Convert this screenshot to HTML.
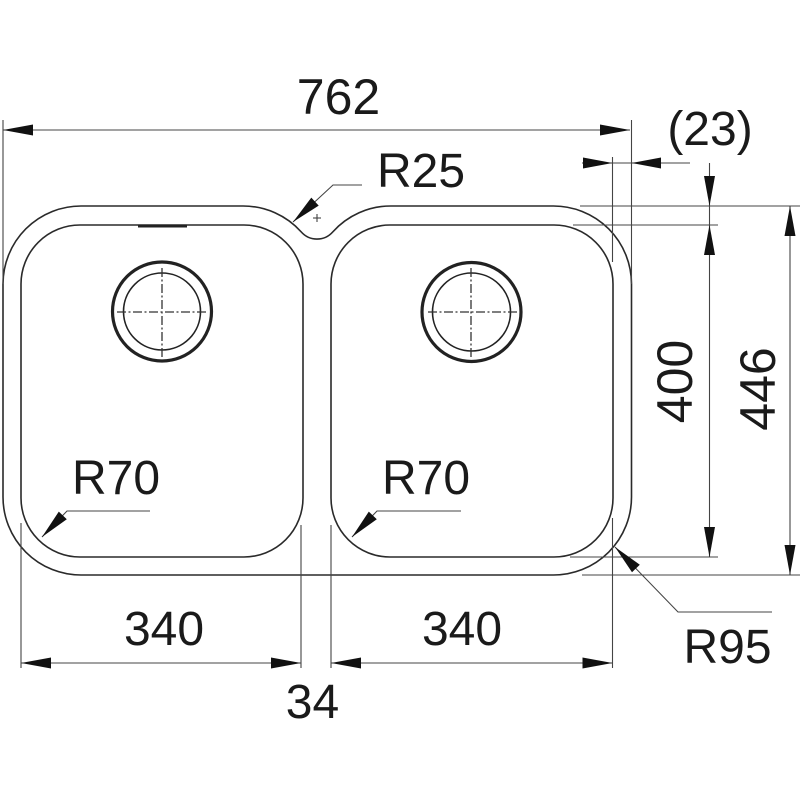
<!DOCTYPE html>
<html><head><meta charset="utf-8"><style>
html,body{margin:0;padding:0;background:#fff;}
svg{display:block;}
text{font-family:"Liberation Sans",Arial,sans-serif;fill:#1a1a1a;}
</style></head><body>
<svg width="800" height="800" viewBox="0 0 800 800" xmlns="http://www.w3.org/2000/svg">
<rect width="800" height="800" fill="#fff"/>
<!-- outline -->
<g fill="none" stroke="#2a2a2a" stroke-width="1.6">
<path d="M81 206 L243 206 A78 78 0 0 1 301.3 232 A21 21 0 0 0 332.7 232 A78 78 0 0 1 391 206 L553.5 206 A78 78 0 0 1 631.5 284 L631.5 497 A78 78 0 0 1 553.5 575 L81 575 A78 78 0 0 1 3 497 L3 284 A78 78 0 0 1 81 206 Z"/>
<rect x="21" y="225" width="282" height="332" rx="59" ry="59"/>
<rect x="331" y="225" width="282" height="332" rx="59" ry="59"/>
</g>
<line x1="138" y1="226" x2="187" y2="226" stroke="#222" stroke-width="3"/>
<!-- drains -->
<g fill="none" stroke="#222">
<circle cx="162" cy="311.5" r="49.5" stroke-width="3.2"/>
<circle cx="162" cy="311.5" r="38.5" stroke-width="1.6"/>
<circle cx="471.5" cy="312" r="49.5" stroke-width="3.2"/>
<circle cx="471.5" cy="312" r="39" stroke-width="1.6"/>
</g>
<g stroke="#333" stroke-width="1.3" stroke-dasharray="9 2.5 2 2.5">
<line x1="117" y1="312" x2="207" y2="312"/>
<line x1="162" y1="268" x2="162" y2="357"/>
<line x1="428" y1="312" x2="517" y2="312"/>
<line x1="471" y1="268" x2="471" y2="357"/>
</g>
<!-- dimension lines -->
<g stroke="#444" stroke-width="1.1" fill="none">
<line x1="3" y1="130" x2="630" y2="130"/>
<line x1="3" y1="120" x2="3" y2="284"/>
<line x1="631.5" y1="120" x2="631.5" y2="284"/>
<line x1="612.5" y1="157" x2="612.5" y2="262"/>
<line x1="582" y1="163" x2="690" y2="163"/>
<line x1="709.5" y1="163" x2="709.5" y2="557"/>
<line x1="790" y1="206" x2="790" y2="575"/>
<line x1="580" y1="206" x2="800" y2="206"/>
<line x1="573" y1="225" x2="718" y2="225"/>
<line x1="570" y1="557" x2="718" y2="557"/>
<line x1="582" y1="575" x2="800" y2="575"/>
<line x1="21" y1="663" x2="301" y2="663"/>
<line x1="331" y1="663" x2="612.5" y2="663"/>
<line x1="21" y1="523" x2="21" y2="668"/>
<line x1="301" y1="525" x2="301" y2="668"/>
<line x1="331" y1="525" x2="331" y2="668"/>
<line x1="612.5" y1="518" x2="612.5" y2="668"/>
<polyline points="362,185 333,185 293,222"/>
<polyline points="150,511 67,511 42,537"/>
<polyline points="461,511 377,511 352,537"/>
<polyline points="772,612 678,612 615,547"/>
<line x1="313" y1="218" x2="321" y2="218"/>
<line x1="317" y1="214" x2="317" y2="222"/>
</g>
<!-- arrowheads -->
<g fill="#111">
<polygon points="3,130 33,124.5 33,135.5"/>
<polygon points="630,130 600,124.5 600,135.5"/>
<polygon points="612.5,163 583,157.5 583,168.5"/>
<polygon points="631.5,163 661,157.5 661,168.5"/>
<polygon points="709.5,206 704,176 715,176"/>
<polygon points="709.5,225 704,255 715,255"/>
<polygon points="709.5,557 704,527 715,527"/>
<polygon points="790,206 784.5,236 795.5,236"/>
<polygon points="790,575 784.5,545 795.5,545"/>
<polygon points="21,663 51,657.5 51,668.5"/>
<polygon points="301,663 271,657.5 271,668.5"/>
<polygon points="331,663 361,657.5 361,668.5"/>
<polygon points="612.5,663 582.5,657.5 582.5,668.5"/>
<polygon points="293,222 318.7,205.6 311.3,197.6"/>
<polygon points="42,537 66.8,519.2 58.8,511.6"/>
<polygon points="352,537 376.8,519.2 368.8,511.6"/>
<polygon points="615,547 639.8,564.7 632,572.3"/>
</g>
<!-- labels -->
<g font-size="48">
<text x="338.5" y="114" text-anchor="middle" font-size="50">762</text>
<text x="710" y="145" text-anchor="middle">(23)</text>
<text x="421" y="187" text-anchor="middle">R25</text>
<text x="116" y="494" text-anchor="middle">R70</text>
<text x="426" y="494" text-anchor="middle">R70</text>
<text x="164" y="645" text-anchor="middle">340</text>
<text x="462" y="645" text-anchor="middle">340</text>
<text x="312.5" y="718" text-anchor="middle">34</text>
<text x="727.5" y="663" text-anchor="middle">R95</text>
<text transform="translate(692,381.5) rotate(-90)" text-anchor="middle" font-size="50">400</text>
<text transform="translate(775,389) rotate(-90)" text-anchor="middle" font-size="50">446</text>
</g>
</svg>
</body></html>
